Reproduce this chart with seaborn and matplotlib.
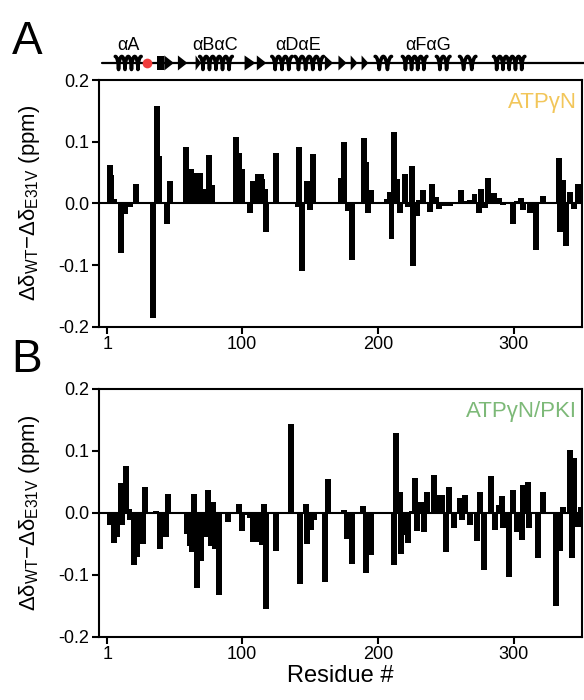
import numpy as np
import matplotlib.pyplot as plt
import seaborn as sns
import pandas as pd

# Panel A: ATPgN, residue number and shift difference (ppm)
res_a = [3, 4, 6, 11, 14, 18, 22, 35, 38, 39, 45, 47, 59, 63, 67, 69, 72, 76, 78,
         96, 98, 100, 106, 108, 112, 114, 115, 117, 118, 125, 141, 142, 144, 148,
         150, 152, 173, 175, 178, 181, 190, 191, 193, 195, 207, 209, 210, 212, 214,
         216, 220, 222, 225, 226, 229, 230, 233, 238, 240, 243, 245, 249, 253, 261,
         264, 268, 271, 274, 276, 279, 281, 285, 289, 292, 296, 299, 302, 305, 307,
         312, 316, 321, 333, 334, 336, 338, 341, 344, 347]
val_a = [0.062, 0.046, 0.007, -0.081, -0.017, -0.006, 0.032, -0.186, 0.158, 0.076,
         -0.034, 0.037, 0.092, 0.055, 0.050, 0.050, 0.023, 0.078, 0.029,
         0.108, 0.081, 0.055, -0.015, 0.037, 0.047, 0.047, 0.040, 0.024, -0.046,
         0.082, -0.006, 0.092, -0.109, 0.037,
         -0.010, 0.080, 0.041, 0.099, -0.013, -0.092, 0.106, 0.067, -0.015, 0.022,
         0.007, 0.018, -0.058, 0.115, 0.040,
         -0.015, 0.047, -0.006, 0.061, -0.102, -0.020, 0.006, 0.022, -0.014, 0.031,
         0.011, -0.009, -0.004, -0.005, 0.021,
         0.003, 0.006, 0.015, -0.015, 0.024, -0.008, 0.041, 0.016, 0.008, -0.003,
         0.002, -0.033, 0.004, 0.008, -0.011,
         -0.016, -0.075, 0.012, 0.073, -0.047, 0.038, -0.069, 0.018, -0.009, 0.032]

# Panel B: ATPgN/PKI
res_b = [3, 6, 8, 11, 12, 15, 17, 18, 21, 23, 25, 27, 29, 37, 40, 44, 46, 60, 62,
         63, 65, 67, 70, 73, 75, 77, 79, 80, 83, 90, 98, 100, 104, 106, 108, 111,
         113, 115, 116, 118, 125, 136, 143, 147, 148, 151, 153, 161, 163, 175, 177,
         181, 189, 191, 195, 212, 213, 216, 217, 220, 222, 225, 227, 229, 231, 233,
         234, 236, 241, 245, 247, 250, 252, 256, 260, 262, 264, 268, 273, 275, 278,
         283, 286, 289, 291, 292, 296, 299, 302, 306, 307, 310, 311, 318, 321, 331,
         334, 336, 341, 343, 344, 347, 349]
val_b = [-0.020, -0.048, -0.039, 0.048, -0.020, 0.076, 0.006, -0.012, -0.085,
         -0.071, -0.012, -0.050, 0.042, 0.003, -0.059, -0.039, 0.031, -0.034, -0.054,
         -0.063, 0.031, -0.121, -0.078, -0.039, 0.037, -0.054, 0.018, -0.059, -0.132,
         -0.015, 0.015, -0.029, -0.004, -0.009, -0.047, -0.047,
         -0.047, -0.052, 0.015, -0.155, -0.062, 0.143, -0.115, 0.015, -0.051, -0.027,
         -0.012, -0.111, 0.054, 0.004, -0.042,
         -0.083, 0.011, -0.097, -0.068, -0.085, 0.129, 0.034, -0.066, -0.036, -0.048,
         0.003, 0.057, -0.030, 0.017, 0.017,
         -0.031, 0.034, 0.061, 0.029, 0.029, -0.063, 0.042, -0.025, 0.024, -0.012,
         0.029, -0.020, -0.045, 0.034, -0.092,
         0.059, -0.028, 0.012, 0.027, -0.025, -0.103, 0.037, -0.031, -0.044, 0.045,
         0.050, -0.024, -0.073, 0.034, -0.150,
         -0.061, 0.010, 0.101, -0.073, 0.089, -0.023, 0.010]

# secondary structure (residue ranges)
helices = [(7, 26), (69, 93), (122, 137), (139, 160), (198, 210), (218, 236),
           (243, 253), (260, 272), (285, 308)]
strands = [(43, 50), (53, 60), (66, 70), (102, 110), (111, 118), (161, 167),
           (171, 177), (180, 185), (188, 193)]
blocks = [(38, 43)]
ss_labels = ['\u03b1A', '\u03b1B\u03b1C', '\u03b1D\u03b1E', '\u03b1F\u03b1G']
ss_label_pos = [17, 80, 141, 237]
mut_site = 30

sns.set_theme(style='ticks')
plt.rcParams['font.family'] = ['Liberation Sans', 'DejaVu Sans']
plt.rcParams['mathtext.fontset'] = 'custom'
plt.rcParams['mathtext.rm'] = 'Liberation Sans'
plt.rcParams['mathtext.default'] = 'regular'
for k in ['text.color', 'axes.labelcolor', 'xtick.color', 'ytick.color',
          'axes.edgecolor']:
    plt.rcParams[k] = 'black'

fig = plt.figure(figsize=(5.84, 7.0), dpi=100)
ax_a = fig.add_axes([0.1695, 0.5333, 0.8275, 0.3524])
ax_b = fig.add_axes([0.1695, 0.0904, 0.8275, 0.3540])
ax_ss = fig.add_axes([0.1695, 0.8886, 0.8275, 0.0686])

xlim = (-5, 350.2)
ylab = r'$\Delta\delta_{WT}$$-$$\Delta\delta_{E31V}$ (ppm)'


def draw_panel(ax, res, val, tag, color):
    df = pd.DataFrame({'res': res, 'val': val})
    sns.barplot(data=df, x='res', y='val', native_scale=True, orient='x',
                width=4.4, color='black', saturation=1, errorbar=None,
                linewidth=0, ax=ax)
    ax.axhline(0, color='black', lw=1.5, zorder=3)
    ax.set_xlim(*xlim)
    ax.set_ylim(-0.2, 0.2)
    ax.set_yticks([-0.2, -0.1, 0, 0.1, 0.2])
    ax.set_yticklabels(['-0.2', '-0.1', '0.0', '0.1', '0.2'])
    ax.set_xticks([1, 100, 200, 300])
    ax.set_xticklabels(['1', '100', '200', '300'])
    ax.tick_params(labelsize=13, width=1.5, length=5, color='black', pad=2)
    for s in ax.spines.values():
        s.set_visible(True)
        s.set_linewidth(1.5)
        s.set_color('black')
    ax.set_ylabel(ylab, fontsize=16, labelpad=12)
    ax.set_xlabel('')
    ax.text(0.99, 0.91, tag, transform=ax.transAxes, ha='right', va='center',
            fontsize=16, color=color)


draw_panel(ax_a, res_a, val_a, 'ATP\u03b3N', '#F2C65A')
draw_panel(ax_b, res_b, val_b, 'ATP\u03b3N/PKI', '#7DB978')
ax_b.set_xlabel('Residue #', fontsize=17, labelpad=1)

# secondary structure cartoon
ax_ss.set_xlim(*xlim)
ax_ss.set_ylim(0, 48)
ax_ss.axis('off')
base = 15
ax_ss.plot([-3, 352], [base, base], color='black', lw=1.6, clip_on=False)
for h0, h1 in helices:
    n = max(2, int(round((h1 - h0) / 4.8)))
    t = np.linspace(0, 2 * np.pi * n, 60 * n)
    step = (h1 - h0) / (2 * np.pi * n)
    xs = h0 + step * t + 0.85 * np.sin(t)
    ys = base + 6.5 * np.cos(t)
    ax_ss.plot(xs, ys, color='black', lw=2.6, solid_capstyle='round')
for s0, s1 in strands:
    ax_ss.fill([s0, s0, s1], [base - 7.5, base + 7.5, base], color='black', lw=0)
for b0, b1 in blocks:
    ax_ss.fill([b0, b0, b1, b1], [base - 7, base + 7, base + 7, base - 7],
               color='black', lw=0)
ax_ss.plot([mut_site], [base], 'o', color='#F03C3C', ms=7, mec='none', zorder=5)
for lab, pos in zip(ss_labels, ss_label_pos):
    ax_ss.text(pos, 32, lab, ha='center', va='center', fontsize=13)

fig.text(0.046, 1 - 42 / 700, 'A', fontsize=33, ha='center', va='center')
fig.text(0.046, 1 - 360 / 700, 'B', fontsize=33, ha='center', va='center')

fig.savefig('out.png', dpi=100)
